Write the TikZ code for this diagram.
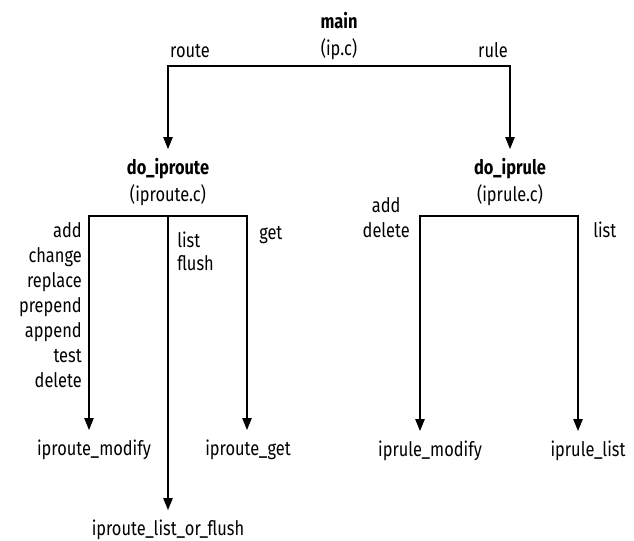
\documentclass[tikz,border=0pt]{standalone}
\usepackage{fontspec}
\setmainfont{Fira Sans}[FakeStretch=0.82]
\usetikzlibrary{arrows.meta,positioning}

\begin{document}
\begin{tikzpicture}[x=0.75pt,y=-0.75pt,
  font=\fontsize{15}{20}\selectfont,
  call/.style={-{Triangle[length=9pt,width=7pt]},line width=1.1pt},
  bar/.style={line width=1.1pt,line cap=rect},
  fn/.style={inner sep=0pt,outer sep=7pt,align=center},
  opt/.style={inner sep=0pt,font=\fontsize{15}{18.75}\selectfont}]
\useasboundingbox (0,0) rectangle (634,541);
% top level
\node[fn] (main) at (339,36) {\textbf{main}\\(ip.c)};
\node[opt,anchor=base] (route) at (190,58) {route};
\node[opt,anchor=base] (rule) at (493,58) {rule};
\coordinate (topL) at (168,66);
\coordinate (topR) at (510,66);
\draw[bar] (topL)--(topR);
\node[fn] (doroute) at (168,182) {\textbf{do\_iproute}\\(iproute.c)};
\node[fn] (dorule) at (510,182) {\textbf{do\_iprule}\\(iprule.c)};
\draw[call] (topL)--(doroute);
\draw[call] (topR)--(dorule);
% do_iproute
\coordinate (rtA) at (89,216);
\coordinate (rtB) at (168,216);
\coordinate (rtC) at (247,216);
\draw[bar] (rtA)--(rtC);
\node[opt,align=right,anchor=north east] (rtmod) at (82,222)
 {add\\change\\replace\\prepend\\append\\test\\delete};
\node[opt,align=left,anchor=north west,
  font=\fontsize{15}{17.25}\selectfont] (rtlist) at (177,232) {list\\flush};
\node[opt,anchor=base west] (rtget) at (259,240) {get};
\node[fn,anchor=base] (modify) at (94,455) {iproute\_modify};
\node[fn,anchor=base] (get) at (248,455) {iproute\_get};
\node[fn,anchor=base] (lof) at (168,535) {iproute\_list\_or\_flush};
\draw[call] (rtA)--(rtA |- modify.north);
\draw[call] (rtB)--(rtB |- lof.north);
\draw[call] (rtC)--(rtC |- get.north);
% do_iprule
\coordinate (ruA) at (420,216);
\coordinate (ruB) at (578,216);
\draw[bar] (ruA)--(ruB);
\node[opt,align=center,anchor=north east] (rumod) at (410,197) {add\\delete};
\node[opt,anchor=base west] (rulist) at (593,238) {list};
\node[fn,anchor=base] (rmodify) at (430,456) {iprule\_modify};
\node[fn,anchor=base] (rlist) at (588,456) {iprule\_list};
\draw[call] (ruA)--(ruA |- rmodify.north);
\draw[call] (ruB)--(ruB |- rlist.north);
\end{tikzpicture}
\end{document}
